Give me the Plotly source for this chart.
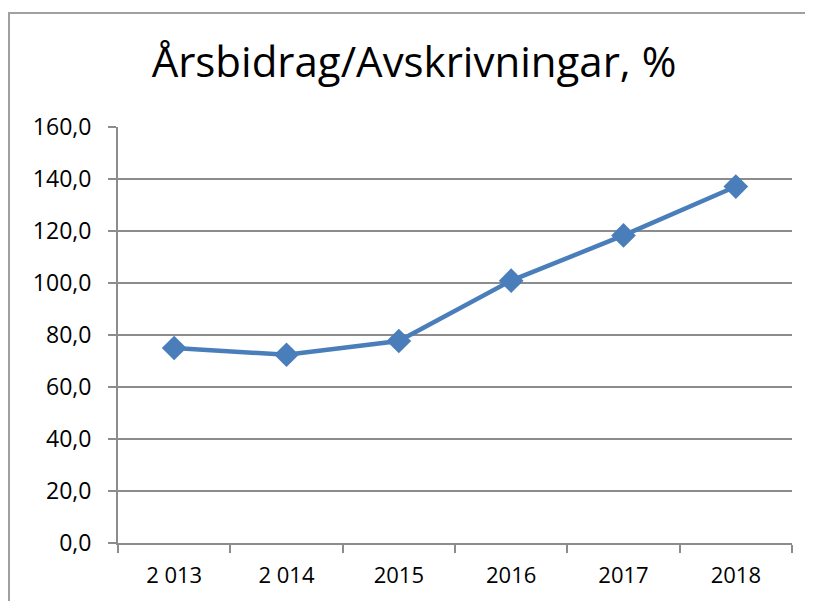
import plotly.graph_objects as go

years = ["2 013", "2 014", "2015", "2016", "2017", "2018"]
values = [75.0, 72.4, 77.7, 100.9, 118.3, 137.1]
y_ticks = [0, 20, 40, 60, 80, 100, 120, 140, 160]
y_labels = ["0,0", "20,0", "40,0", "60,0", "80,0", "100,0", "120,0", "140,0", "160,0"]

# the page body has an 8px margin, so the figure is drawn 8px in from the window edge
OFF = 8
W, H = 813 - OFF, 601 - OFF
L, R, T, B = 118 - OFF, 21, 127 - OFF, 58
pw, ph = W - L - R, H - T - B

fig = go.Figure()
fig.add_trace(go.Scatter(
    x=years, y=values, mode="lines+markers",
    line=dict(color="#4A7EBB", width=4.5),
    marker=dict(symbol="diamond", size=19, color="#4A7EBB"),
    showlegend=False,
))

grid = "#8C8C8C"
fig.update_layout(
    width=W, height=H,
    margin=dict(l=L, r=R, t=T, b=B),
    paper_bgcolor="white", plot_bgcolor="white",
    font=dict(family="Open Sans, sans-serif", color="#000000", size=23),
    title=dict(text="Årsbidrag/Avskrivningar, %", x=(414 - OFF) / W, xanchor="center",
               y=1 - (62 - OFF) / H, yanchor="middle",
               font=dict(family="Open Sans, sans-serif", size=42)),
    xaxis=dict(type="category", range=[-0.5, len(years) - 0.5], tickson="boundaries",
               ticks="outside", ticklen=8,
               tickcolor=grid, tickwidth=1.5, showline=True, linecolor=grid, linewidth=2,
               showgrid=False, tickfont=dict(size=22), ticklabelstandoff=12),
    yaxis=dict(range=[0, 160], tickvals=y_ticks, ticktext=y_labels, ticks="outside",
               ticklen=8, tickcolor=grid, tickwidth=1.5, showline=True, linecolor=grid,
               linewidth=2, gridcolor=grid, gridwidth=1.5, zeroline=False,
               tickfont=dict(size=23), ticklabelstandoff=12),
)

# outer chart frame
fig.add_shape(type="rect", xref="paper", yref="paper",
              x0=(9 - 118) / pw, x1=(810 - 118) / pw,
              y0=-(B + 20) / ph, y1=(H - (13 - OFF) - B) / ph,
              line=dict(color="#A0A0A0", width=2), layer="below")

fig.write_html("out.html")
